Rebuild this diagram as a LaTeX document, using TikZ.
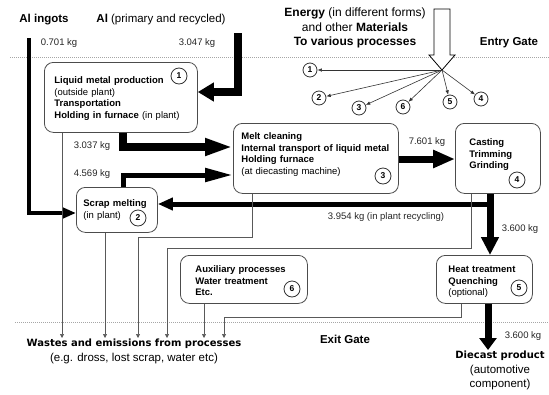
\documentclass[tikz,border=0pt]{standalone}
\usepackage{fontspec}
\setmainfont{Liberation Sans}
\newfontfamily\heavyfont{DejaVu Sans}
\usetikzlibrary{arrows.meta}

\newcommand{\boxfont}{\fontsize{9.5}{11.5}\selectfont}
\newcommand{\kgfont}{\fontsize{9.5}{11}\selectfont}
\newcommand{\topfont}{\fontsize{11.5}{14.5}\selectfont}
\newcommand{\outfont}{\heavyfont\bfseries\fontsize{10}{12}\selectfont}

\tikzset{
  proc/.style={draw=black!70, line width=0.8pt, rounded corners=9pt, fill=white,
    anchor=north west, align=left, inner ysep=0pt, font=\boxfont},
  num/.style={circle, draw=black!80, line width=0.8pt, inner sep=0pt,
    minimum size=16pt, font=\bfseries\fontsize{8.5}{10}\selectfont},
  enum/.style={num, minimum size=14pt},
  kg/.style={font=\kgfont, text=black!85},
  flow/.style={draw=black, line width=#1},
  head/.style 2 args={-{Triangle[length=#1,width=#2]}},
  waste/.style={draw=black!65, line width=0.7pt, -{Triangle[length=4pt,width=4pt]}},
  fan/.style={draw=black!80, line width=0.6pt, -{Latex[length=4.5pt,width=3.5pt]}},
  gate/.style={draw=black!35, line width=0.5pt, dash pattern=on 1pt off 1pt},
}

\begin{document}
\begin{tikzpicture}[x=1pt, y=-1pt]
\useasboundingbox (0,0) rectangle (549,394);

% gates
\draw[gate] (10,57) -- (549,57);
\draw[gate] (15,322) -- (549,322);
\node[font=\topfont\bfseries] (entry) at (509,43) {Entry Gate};
\node[font=\topfont\bfseries] (exit) at (345,339) {Exit Gate};

% inputs
\node[font=\topfont] (ingots) at (44,20) {\textbf{Al ingots}};
\node[font=\topfont] (primary) at (161,20) {\textbf{Al} (primary and recycled)};
\node[kg] (kgingots) at (59,43) {0.701 kg};
\node[kg] (kgprimary) at (197,43) {3.047 kg};
\node[font=\fontsize{12}{14.5}\selectfont, align=center] (energy) at (355,28)
  {\textbf{Energy} (in different forms)\\and other \textbf{Materials}\\\textbf{To various processes}};

% processes
\node[proc, inner xsep=10pt, text width=133pt, text height=21.5pt, text depth=48.5pt] (liquid) at (44,62)
  {\textbf{Liquid metal production}\\(outside plant)\\\textbf{Transportation}\\\textbf{Holding in furnace} (in plant)};
\node[proc, inner xsep=7pt, text width=67pt, text height=19.5pt, text depth=25.5pt] (scrap) at (76,187)
  {\textbf{Scrap melting}\\(in plant)};
\node[proc, inner xsep=8pt, text width=149pt, text height=16.5pt, text depth=53.5pt] (melt) at (233,123)
  {\textbf{Melt cleaning}\\\textbf{Internal transport of liquid metal}\\\textbf{Holding furnace}\\(at diecasting machine)};
\node[proc, inner xsep=14pt, text width=57pt, text height=22.5pt, text depth=47.5pt] (casting) at (455,123)
  {\textbf{Casting}\\\textbf{Trimming}\\\textbf{Grinding}};
\node[proc, inner xsep=12pt, text width=72pt, text height=17.5pt, text depth=30.5pt] (heat) at (436,255)
  {\textbf{Heat treatment}\\\textbf{Quenching}\\(optional)};
\node[proc, inner xsep=15pt, text width=97pt, text height=17.5pt, text depth=30.5pt] (aux) at (180,255)
  {\textbf{Auxiliary processes}\\\textbf{Water treatment}\\\textbf{Etc.}};

\node[num] (c1) at (179,76) {1};
\node[num] (c2) at (138,218) {2};
\node[num] (c3) at (383,176) {3};
\node[num] (c4) at (517,180) {4};
\node[num] (c5) at (519,288) {5};
\node[num] (c6) at (292,289) {6};

% outputs
\node[anchor=north, align=center, inner sep=1pt, font=\fontsize{11.5}{15}\selectfont] (wastes) at (134,338)
  {{\outfont Wastes and emissions from processes}\\(e.g. dross, lost scrap, water etc)};
\node[anchor=north, align=center, inner sep=1pt, font=\fontsize{11.5}{14.5}\selectfont] (product) at (500,350)
  {{\outfont Diecast product}\\(automotive\\component)};

% energy and materials
\draw[line width=0.8pt, fill=white] (434,9) -- (450,9) -- (450,55) -- (455,55) -- (442,70) -- (429,55) -- (434,55) -- cycle;
\coordinate (etip) at (442,70);
\node[enum] (e1) at (310,70) {1};
\node[enum] (e2) at (319,98) {2};
\node[enum] (e3) at (359,108) {3};
\node[enum] (e6) at (403,107) {6};
\node[enum] (e5) at (450,102) {5};
\node[enum] (e4) at (481,99) {4};
\foreach \n in {1,...,6}
  \draw[fan] (etip) -- (e\n);

% metal flows
\coordinate (ingtop) at (29,38);
\coordinate (primtop) at (238,33);
\coordinate (recycle) at (490,204);
\draw[flow=4pt, head={14pt}{11pt}] (ingtop) |- (scrap.west |- 0,213);
\draw[flow=8pt, head={16pt}{18pt}] (primtop) |- (liquid.east |- 0,92);
\draw[flow=8pt, head={28pt}{16pt}] (liquid.south -| 123,0) |- (melt.west |- 0,147);
\draw[flow=5pt, head={28pt}{13pt}] (scrap.north -| 123,0) |- (melt.west |- 0,175);
\draw[flow=7pt, head={22pt}{17pt}] (melt.east |- 0,159) -- (casting.west |- 0,159);
\draw[flow=7pt, head={18pt}{17pt}] (casting.south -| 490,0) -- (heat.north -| 490,0);
\draw[flow=5pt, head={15pt}{12pt}] (recycle) -- (scrap.east |- recycle);
\draw[flow=7pt, head={12pt}{17pt}] (heat.south -| 488,0) -- (product.north -| 488,0);

\node[kg] (kg3037) at (92,146) {3.037 kg};
\node[kg] (kg4569) at (92,174) {4.569 kg};
\node[kg] (kg7601) at (427,142) {7.601 kg};
\node[kg] (kgrec) at (386,217) {3.954 kg (in plant recycling)};
\node[kg] (kg3600) at (520,229) {3.600 kg};
\node[kg] (kgprod) at (523,336) {3.600 kg};

% wastes
\draw[waste] (liquid.south -| 62,0) -- (wastes.north -| 62,0);
\draw[waste] (scrap.south -| 105,0) -- (wastes.north -| 105,0);
\draw[waste] (melt.south -| 252,0) |- (138,237) -- (wastes.north -| 138,0);
\draw[waste] (casting.south -| 471,0) |- (167,248) -- (wastes.north -| 167,0);
\draw[waste] (aux.south -| 204,0) -- (wastes.north -| 204,0);
\draw[waste] (heat.south -| 461,0) |- (224,317) -- (wastes.north -| 224,0);
\end{tikzpicture}
\end{document}
